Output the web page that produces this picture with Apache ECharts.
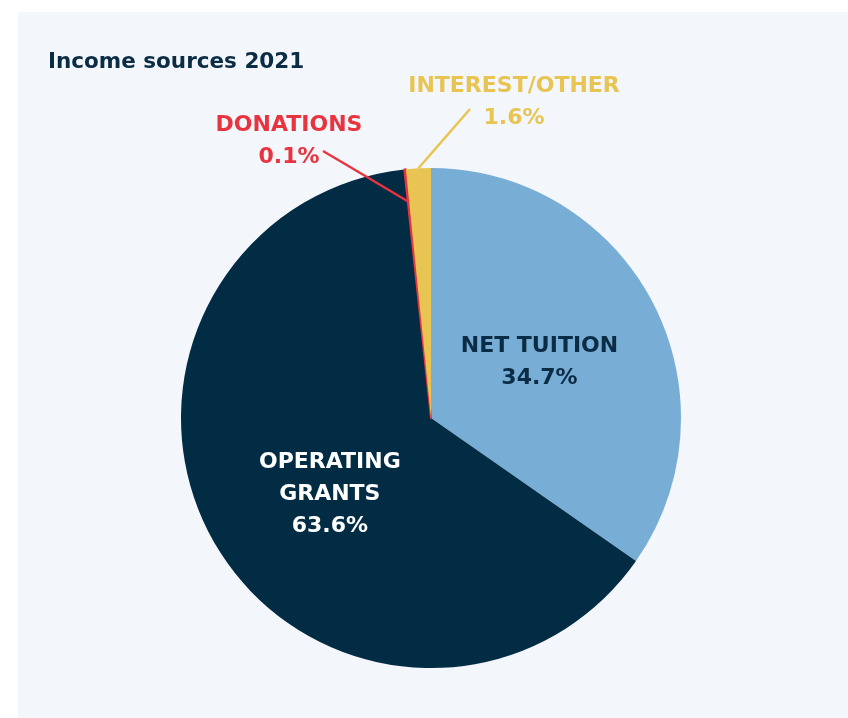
<!DOCTYPE html>
<html><head><meta charset="utf-8">
<script src="https://cdn.jsdelivr.net/npm/echarts/dist/echarts.min.js"></script>
<style>html,body{margin:0;padding:0;background:#ffffff}#c{width:848px;height:718px}</style>
</head><body><div id="c"></div>
<script>
// ---- data ----
const titleText = 'Income sources 2021';
const categories = ['NET TUITION', 'OPERATING\nGRANTS', 'DONATIONS', 'INTEREST/OTHER'];
const shares = [34.7, 63.6, 0.1, 1.6];
// ---- styles / layout ----
const sliceColors = ['#78add5', '#022b44', '#e8343f', '#e8c452'];
const labelColors = ['#0b2c45', '#ffffff', '#e8343f', '#e8c452'];
const labelInside = [true, true, false, false];
const pieCenter = [431, 418];
const pieRadius = 250;
const insideShift = {0: [-5, 3], 1: [9, 11]};
const outsideLabelPos = {2: [289, 141], 3: [514, 102]};
const lineEndOffset = {2: [34, 10], 3: [-44, 7]};
const lineStartScale = {2: 0.87, 3: 1.0};
const FONT = '"DejaVu Sans", sans-serif';

const chart = echarts.init(document.getElementById('c'));

// base series: slices + inside labels
const baseData = categories.map((name, i) => ({
  name: name,
  value: shares[i],
  itemStyle: i === 2 ? {color: sliceColors[i], borderColor: sliceColors[i], borderWidth: 2} : {color: sliceColors[i]},
  label: {show: labelInside[i], position: 'inside', color: labelColors[i]},
  labelLine: {show: false}
}));
// overlay series (transparent slices): outside labels + leader lines drawn above slices
const overlayData = categories.map((name, i) => ({
  name: name,
  value: shares[i],
  itemStyle: {color: 'rgba(0,0,0,0)', borderWidth: 0},
  label: {show: !labelInside[i], position: 'outside', color: labelColors[i], opacity: 1},
  labelLine: {show: !labelInside[i], length: 10, length2: 0, lineStyle: {color: sliceColors[i], width: 2.4, opacity: 1}}
}));

const labelBase = {
  fontFamily: FONT, fontSize: 22, fontWeight: 'bold', lineHeight: 32,
  align: 'center',
  formatter: p => p.name + '\n' + p.value.toFixed(1) + '%'
};

chart.setOption({
  animation: false,
  backgroundColor: '#ffffff',
  graphic: [{
    type: 'rect', left: 18, top: 12, z: -10,
    shape: {width: 830, height: 706},
    style: {fill: '#f3f6fb'}
  }],
  title: {
    text: titleText, left: 43, top: 46,
    textStyle: {fontFamily: FONT, fontSize: 21.5, fontWeight: 'bold', color: '#0b2c45'}
  },
  series: [{
    type: 'pie', z: 2,
    center: pieCenter, radius: pieRadius,
    startAngle: 90, clockwise: true,
    avoidLabelOverlap: false, minShowLabelAngle: 0, silent: true,
    label: labelBase,
    labelLayout: function (p) {
      const s = insideShift[p.dataIndex];
      return s ? {dx: s[0], dy: s[1]} : {};
    },
    data: baseData
  }, {
    type: 'pie', z: 5,
    center: pieCenter, radius: pieRadius,
    startAngle: 90, clockwise: true,
    avoidLabelOverlap: false, minShowLabelAngle: 0, silent: true,
    label: labelBase,
    labelLayout: function (p) {
      const i = p.dataIndex;
      const pos = outsideLabelPos[i];
      if (!pos) return {};
      const end = [pos[0] + lineEndOffset[i][0], pos[1] + lineEndOffset[i][1]];
      const p0 = p.labelLinePoints && p.labelLinePoints[0];
      let start = end;
      if (p0) {
        const k = lineStartScale[i];
        start = [pieCenter[0] + (p0[0] - pieCenter[0]) * k, pieCenter[1] + (p0[1] - pieCenter[1]) * k];
      }
      const mid = [(start[0] + end[0]) / 2, (start[1] + end[1]) / 2];
      return {
        x: pos[0], y: pos[1], align: 'center', verticalAlign: 'middle',
        labelLinePoints: [start, mid, end]
      };
    },
    data: overlayData
  }]
});
</script>
</body></html>
